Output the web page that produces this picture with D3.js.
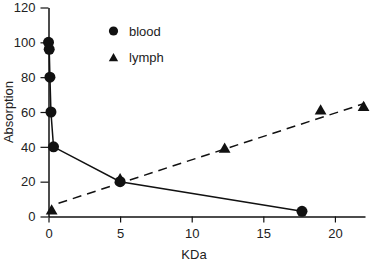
<!DOCTYPE html>
<html>
<head>
<meta charset="utf-8">
<script src="https://cdn.jsdelivr.net/npm/d3@7"></script>
<style>
  body { margin: 0; background: #fff; }
  text { font-family: "Liberation Sans", Arial, sans-serif; fill: #222; }
</style>
</head>
<body>
<div id="vis-container"></div>
<script>
// data
let bloodX = [0, 0.05, 0.1, 0.17, 0.35, 5, 17.7];
let bloodY = [100, 96, 80, 60, 40, 20, 3];
let lymphX = [0.22, 5, 12.3, 19, 22];
let lymphY = [2.5, 20.5, 38, 60, 62];
// dashed fit line, ends as drawn
let fitX = [0.7, 22.1];
let fitY = [7.6, 65];
let xTicks = [0, 5, 10, 15, 20];
let yTicks = [0, 20, 40, 60, 80, 100, 120];

let width = 370, height = 262;
let margins = {top: 7.5, right: 5, bottom: 45.5, left: 48.5};
let visWidth = width - margins.left - margins.right;
let visHeight = height - margins.top - margins.bottom;

let svg = d3.select("#vis-container").append("svg")
    .attr("width", width)
    .attr("height", height);

let viewport = svg.append("g")
    .attr("transform", "translate(" + margins.left + "," + margins.top + ")");

let x = d3.scaleLinear().domain([0, 22.1]).range([0, visWidth]);
let y = d3.scaleLinear().domain([0, 120]).range([visHeight, 0]);

// axes
let xAxis = viewport.append("g")
    .attr("transform", "translate(0," + visHeight + ")")
    .call(d3.axisBottom(x).tickValues(xTicks).tickSize(6).tickSizeOuter(0).tickPadding(6));
let yAxis = viewport.append("g")
    .call(d3.axisLeft(y).tickValues(yTicks).tickSize(8).tickSizeOuter(0).tickPadding(5));

[xAxis, yAxis].forEach(a => {
    a.select(".domain").attr("stroke", "#111").attr("stroke-width", 1.5);
    a.selectAll(".tick line").attr("stroke", "#111").attr("stroke-width", 1.2);
    a.selectAll(".tick text").attr("font-size", 13).attr("fill", "#222")
        .attr("font-family", "'Liberation Sans', Arial, sans-serif");
});

// axis titles
svg.append("text").text("KDa")
    .attr("x", 194).attr("y", 259)
    .attr("text-anchor", "middle").attr("font-size", 13);
svg.append("text").text("Absorption")
    .attr("transform", "translate(13," + (margins.top + y(60)) + ") rotate(-90)")
    .attr("text-anchor", "middle").attr("font-size", 13);

let blood = bloodX.map((d, i) => ({x: d, y: bloodY[i]}));
let lymph = lymphX.map((d, i) => ({x: d, y: lymphY[i]}));
let fit = fitX.map((d, i) => ({x: d, y: fitY[i]}));

let line = d3.line().x(d => x(d.x)).y(d => y(d.y));

// dashed fit for lymph
viewport.append("path")
    .datum(fit)
    .attr("fill", "none")
    .attr("stroke", "#111")
    .attr("stroke-width", 1.5)
    .attr("stroke-dasharray", "9,6")
    .attr("d", line);

let tri = d3.symbol().type(d3.symbolTriangle).size(60);
viewport.selectAll(".lymph")
    .data(lymph).enter()
    .append("path")
    .attr("class", "lymph")
    .attr("transform", d => "translate(" + x(d.x) + "," + (y(d.y) - 1) + ")")
    .attr("d", tri)
    .attr("fill", "#111");

// blood line + points
viewport.append("path")
    .datum(blood)
    .attr("fill", "none")
    .attr("stroke", "#111")
    .attr("stroke-width", 1.5)
    .attr("d", line);

viewport.selectAll(".blood")
    .data(blood).enter()
    .append("circle")
    .attr("class", "blood")
    .attr("cx", d => x(d.x))
    .attr("cy", d => y(d.y))
    .attr("r", 5.5)
    .attr("fill", "#111");

// legend
let legend = svg.append("g");
legend.append("circle").attr("cx", 113.5).attr("cy", 31).attr("r", 4.6).attr("fill", "#111");
legend.append("text").text("blood").attr("x", 129).attr("y", 35.7).attr("font-size", 13);
legend.append("path").attr("d", d3.symbol().type(d3.symbolTriangle).size(38))
    .attr("transform", "translate(113.5,58.5)").attr("fill", "#111");
legend.append("text").text("lymph").attr("x", 129).attr("y", 62).attr("font-size", 13);
</script>
</body>
</html>
